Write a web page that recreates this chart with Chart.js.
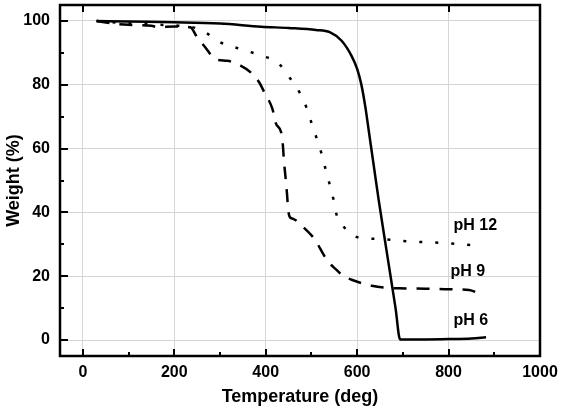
<!DOCTYPE html>
<html><head><meta charset="utf-8">
<script src="https://cdn.jsdelivr.net/npm/chart.js@4"></script>
<style>html,body{margin:0;background:#fff}</style>
</head><body>
<canvas id="c" width="562" height="408"></canvas>
<script>
// TGA curves
const tempPH6 = [30, 100, 200, 300, 390, 450, 510, 540, 566, 588, 600, 609, 618, 626, 636, 647, 660, 672, 684, 694, 750, 800, 850, 882];
const wPH6    = [100, 99.8, 99.6, 99.2, 98.2, 97.8, 97.2, 96.5, 93.8, 89, 85, 80.2, 73, 65, 55, 44, 32, 21, 10, 0.2, 0.2, 0.3, 0.5, 0.85];

const tempPH9 = [30, 60, 100, 150, 165, 200, 235, 250, 268, 290, 316, 345, 367, 386, 397, 415, 422, 434, 437, 440, 444, 447, 449, 453, 460, 485, 507, 529, 540, 555, 570, 588, 610, 632, 691, 750, 801, 845, 867];
const wPH9    = [100, 99.3, 98.8, 98.5, 98.0, 98.3, 98, 94.9, 91.7, 88, 87.5, 86, 83.9, 80.7, 77.6, 72.3, 68, 65, 62, 56, 50, 45, 41, 38.5, 38, 35, 31.6, 26.2, 24, 22, 20, 18.9, 17.8, 17, 16.2, 16.1, 15.9, 15.7, 14.5];

const tempPH12 = [30, 100, 200, 235, 250, 268, 301, 345, 393, 426, 452, 474, 489, 500, 511, 522, 531, 540, 548, 555, 573, 606, 647, 713, 794, 860];
const wPH12    = [100, 99.2, 98.6, 98.2, 97.6, 96.4, 93.3, 91.2, 89, 87, 82.3, 77.6, 72.9, 68.1, 63.4, 58.5, 53.5, 48.7, 44.2, 39.3, 35.1, 32, 31.7, 30.9, 30.4, 29.6];

const xTicks = [0, 200, 400, 600, 800, 1000];
const xMinor = [100, 300, 500, 700, 900];
const yTicks = [0, 20, 40, 60, 80, 100];
const yMinor = [10, 30, 50, 70, 90];

const curveNames = ['pH 6', 'pH 9', 'pH 12'];
const labelX = [811, 804, 811];
const labelY = [6.0, 21.5, 36.0];

const FONT = '"Liberation Sans", Arial, sans-serif';

function pts(xs, ys){ return xs.map((x,i)=>({x:x, y:ys[i]})); }
function noPad(s){ s.paddingTop = 0; s.paddingBottom = 0; s.paddingLeft = 0; s.paddingRight = 0; }

const framePlugin = {
  id: 'frame',
  afterDatasetsDraw(chart){
    const ctx = chart.ctx, a = chart.chartArea;
    const xs = chart.scales.x, ys = chart.scales.y;
    ctx.save();
    ctx.strokeStyle = '#000';
    ctx.lineWidth = 2;
    // inward tick marks
    ctx.beginPath();
    xTicks.forEach(v=>{
      const p = Math.round(xs.getPixelForValue(v));
      ctx.moveTo(p, a.bottom); ctx.lineTo(p, a.bottom - 7);
      ctx.moveTo(p, a.top); ctx.lineTo(p, a.top + 7);
    });
    xMinor.forEach(v=>{
      const p = Math.round(xs.getPixelForValue(v));
      ctx.moveTo(p, a.bottom); ctx.lineTo(p, a.bottom - 4);
    });
    yTicks.forEach(v=>{
      const p = Math.round(ys.getPixelForValue(v));
      ctx.moveTo(a.left, p); ctx.lineTo(a.left + 8, p);
    });
    yMinor.forEach(v=>{
      const p = Math.round(ys.getPixelForValue(v));
      ctx.moveTo(a.left, p); ctx.lineTo(a.left + 4, p);
    });
    ctx.stroke();
    ctx.lineWidth = 2.5;
    ctx.strokeRect(a.left, a.top, a.right - a.left, a.bottom - a.top);
    // curve labels
    ctx.fillStyle = '#000';
    ctx.font = 'bold 16px ' + FONT;
    ctx.textBaseline = 'middle';
    ctx.textAlign = 'left';
    curveNames.forEach((t,i)=>{
      ctx.fillText(t, xs.getPixelForValue(labelX[i]), ys.getPixelForValue(labelY[i]));
    });
    ctx.restore();
  }
};

const line = {pointRadius:0, borderColor:'#000', borderWidth:2.5, fill:false, cubicInterpolationMode:'monotone', borderCapStyle:'butt'};

new Chart(document.getElementById('c').getContext('2d'), {
  type: 'line',
  data: {datasets: [
    Object.assign({label: curveNames[0], data: pts(tempPH6, wPH6)}, line),
    Object.assign({label: curveNames[1], data: pts(tempPH9, wPH9), borderDash:[13, 10]}, line),
    Object.assign({label: curveNames[2], data: pts(tempPH12, wPH12), borderDash:[3, 13]}, line)
  ]},
  options: {
    responsive: false, animation: false,
    layout: {padding: {top: 5, right: 22, left: 0, bottom: 0}},
    plugins: {legend: {display: false}, tooltip: {enabled: false}},
    scales: {
      x: {
        type: 'linear', min: -50, max: 1000,
        afterBuildTicks: s => { s.ticks = xTicks.map(v=>({value:v})); },
        afterFit: s => { s.height = 52; noPad(s); },
        grid: {color: '#d6d6d6', lineWidth: 1, drawTicks: false},
        border: {display: false},
        ticks: {color: '#000', font: {family: FONT, size: 16, weight: 'bold'}, padding: 7, callback: v => String(v)},
        title: {display: true, text: 'Temperature (deg)', color: '#000', font: {family: FONT, size: 18, weight: 'bold'}, padding: {top: 0, bottom: 0}}
      },
      y: {
        min: -5, max: 105,
        afterBuildTicks: s => { s.ticks = yTicks.map(v=>({value:v})); },
        afterFit: s => { s.width = 60; noPad(s); },
        grid: {color: '#d6d6d6', lineWidth: 1, drawTicks: false},
        border: {display: false},
        ticks: {color: '#000', font: {family: FONT, size: 16, weight: 'bold'}, padding: 10, callback: v => String(v)},
        title: {display: true, text: 'Weight (%)', color: '#000', font: {family: FONT, size: 18, weight: 'bold'}, padding: {top: 3, bottom: 0}}
      }
    }
  },
  plugins: [framePlugin]
});
</script>
</body></html>
